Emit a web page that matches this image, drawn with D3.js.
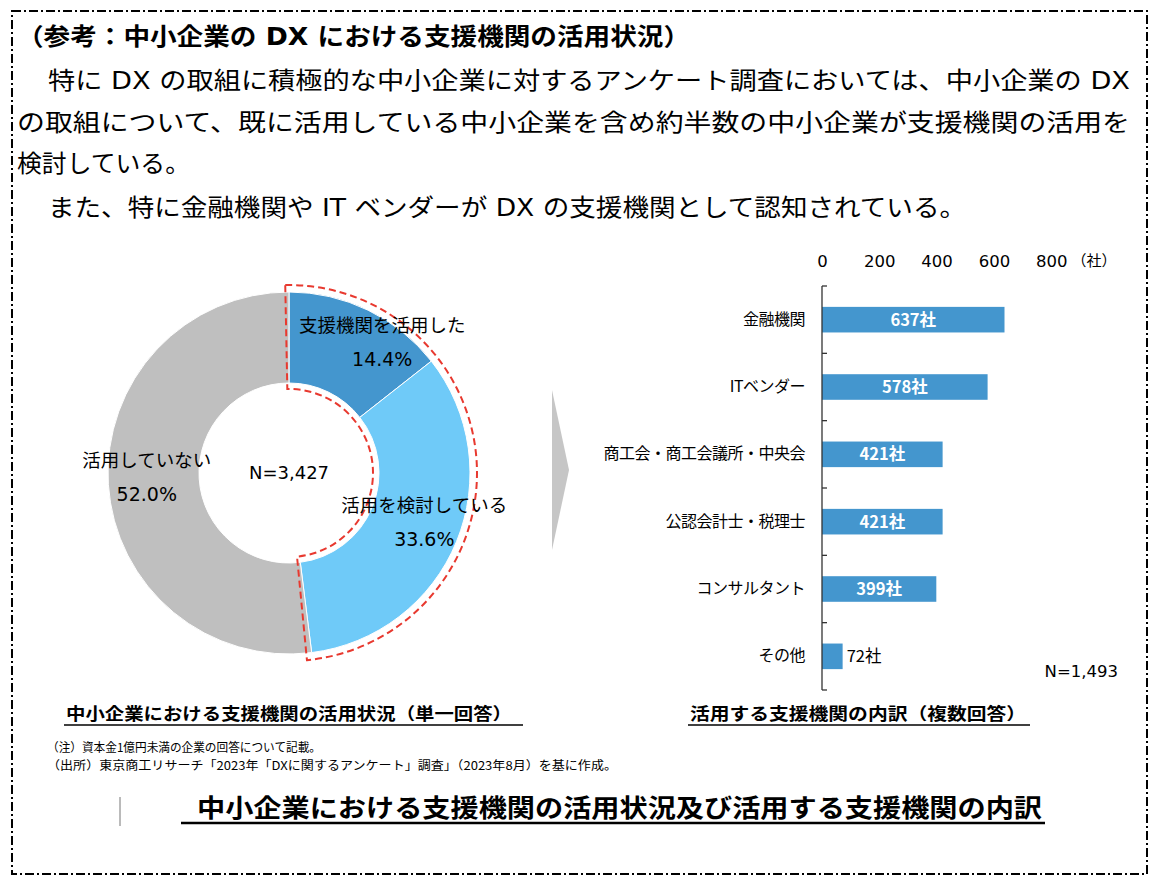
<!DOCTYPE html>
<html>
<head>
<meta charset="utf-8">
<script src="https://cdn.jsdelivr.net/npm/d3@7"></script>
<style>
  body { margin: 0; background: #fff; }
  svg { display: block; font-family: "DejaVu Sans", "Noto Sans CJK JP", sans-serif; }
</style>
</head>
<body>
<svg id="chart" width="1159" height="887"></svg>
<script>
// donut data
const pieLabels = ['支援機関を活用した', '活用を検討している', '活用していない'];
const pieValues = [14.4, 33.6, 52.0];
const pieTotal = 'N=3,427';

// bar data
const barCategories = ['金融機関', 'ITベンダー', '商工会・商工会議所・中央会', '公認会計士・税理士', 'コンサルタント', 'その他'];
const barValues = [637, 578, 421, 421, 399, 72];
const xTicks = [0, 200, 400, 600, 800];
const barTotal = 'N=1,493';

// text blocks
const headLines = [
  '（参考：中小企業の DX における支援機関の活用状況）',
  '特に DX の取組に積極的な中小企業に対するアンケート調査においては、中小企業の DX',
  'の取組について、既に活用している中小企業を含め約半数の中小企業が支援機関の活用を',
  '検討している。',
  'また、特に金融機関や IT ベンダーが DX の支援機関として認知されている。'
];
const noteLines = [
  '（注）資本金1億円未満の企業の回答について記載。',
  '（出所）東京商工リサーチ「2023年「DXに関するアンケート」調査」（2023年8月）を基に作成。'
];
const pieTitle = '中小企業における支援機関の活用状況（単一回答）';
const barTitle = '活用する支援機関の内訳（複数回答）';
const mainTitle = '中小企業における支援機関の活用状況及び活用する支援機関の内訳';

const svg = d3.select('#chart');

// dash-dot frame
svg.append('rect')
  .attr('x', 12).attr('y', 11)
  .attr('width', 1135).attr('height', 863)
  .attr('fill', 'none')
  .attr('stroke', '#000')
  .attr('stroke-width', 2)
  .attr('stroke-dasharray', '9,3,2,3');

// heading text
const headPos = [
  { x: 17, y: 45, w: 673, bold: true },
  { x: 48, y: 89, w: 1082 },
  { x: 17, y: 131, w: 1113 },
  { x: 17, y: 172, w: 173 },
  { x: 48, y: 216, w: 918 }
];
headLines.forEach((t, i) => {
  const p = headPos[i];
  svg.append('text')
    .attr('x', p.x).attr('y', p.y)
    .attr('font-size', 24)
    .attr('font-weight', p.bold ? 'bold' : 'normal')
    .attr('textLength', p.w)
    .attr('lengthAdjust', 'spacingAndGlyphs')
    .text(t);
});

// ---------- donut ----------
const cx = 289, cy = 473;
const rOuter = 181, rInner = 90;
const pieColors = ['#4496ce', '#6fcaf8', '#bfbfbf'];

const pie = d3.pie().sort(null).value(d => d);
const arcs = pie(pieValues);
const arc = d3.arc().innerRadius(rInner).outerRadius(rOuter);

const donut = svg.append('g').attr('transform', `translate(${cx},${cy})`);
donut.selectAll('path.slice')
  .data(arcs)
  .enter()
  .append('path')
  .attr('class', 'slice')
  .attr('d', arc)
  .attr('fill', (d, i) => pieColors[i])
  .attr('stroke', '#fff')
  .attr('stroke-width', 1);

// red dashed outline around the two blue slices
const usedEnd = arcs[1].endAngle;
const outline = d3.arc()
  .innerRadius(84).outerRadius(188)
  .startAngle(-0.02).endAngle(usedEnd + 0.03);
donut.append('path')
  .attr('d', outline())
  .attr('fill', 'none')
  .attr('stroke', '#e8392f')
  .attr('stroke-width', 2)
  .attr('stroke-dasharray', '7,4');

// slice labels
const labelShift = [[34, -9], [10, -2], [-7, -5]];
arcs.forEach((d, i) => {
  const c = d3.arc().innerRadius(rInner).outerRadius(rOuter).centroid(d);
  const x = c[0] + labelShift[i][0];
  const y = c[1] + labelShift[i][1];
  donut.append('text')
    .attr('x', x).attr('y', y - 10)
    .attr('text-anchor', 'middle')
    .attr('font-size', 18.5)
    .attr('font-family', '"Noto Sans CJK JP", sans-serif')
    .text(pieLabels[i]);
  donut.append('text')
    .attr('x', x).attr('y', y + 24)
    .attr('text-anchor', 'middle')
    .attr('font-size', 19)
    .text(d3.format('.1f')(pieValues[i]) + '%');
});

donut.append('text')
  .attr('x', 0).attr('y', 6)
  .attr('text-anchor', 'middle')
  .attr('font-size', 18)
  .text(pieTotal);

// gray chevron between charts
svg.append('path')
  .attr('d', d3.line()([[552, 390], [569, 470], [552, 550]]) + 'Z')
  .attr('fill', '#c6c6c6');

// ---------- bar chart ----------
const x0 = 822;
const xScale = d3.scaleLinear().domain([0, 800]).range([x0, x0 + 229.2]);
const yScale = d3.scaleBand()
  .domain(barCategories)
  .range([286, 690])
  .paddingInner(0.62)
  .paddingOuter(0.31);

svg.append('g')
  .attr('transform', 'translate(0,267)')
  .call(d3.axisTop(xScale).tickValues(xTicks).tickSize(0).tickPadding(0))
  .call(g => g.select('.domain').remove())
  .call(g => g.selectAll('text')
    .attr('font-size', 16.5)
    .attr('fill', '#000')
    .attr('font-family', '"DejaVu Sans", sans-serif'));

svg.append('text')
  .attr('x', 1094).attr('y', 266)
  .attr('text-anchor', 'middle')
  .attr('font-size', 15)
  .text('（社）');

svg.selectAll('.bar')
  .data(barValues)
  .enter()
  .append('rect')
  .attr('class', 'bar')
  .attr('x', xScale(0))
  .attr('y', (d, i) => yScale(barCategories[i]))
  .attr('width', d => xScale(d) - xScale(0))
  .attr('height', yScale.bandwidth())
  .attr('fill', '#4496ce');

// value labels
svg.selectAll('.bar-label')
  .data(barValues)
  .enter()
  .append('text')
  .attr('class', 'bar-label')
  .attr('x', d => d > 200 ? (xScale(d) + xScale(0)) / 2 : xScale(d) + 4)
  .attr('y', (d, i) => yScale(barCategories[i]) + yScale.bandwidth() / 2 + 6)
  .attr('text-anchor', d => d > 200 ? 'middle' : 'start')
  .attr('font-size', 16.5)
  .attr('font-family', '"Noto Sans CJK JP", sans-serif')
  .attr('font-weight', d => d > 200 ? 'bold' : 'normal')
  .attr('fill', d => d > 200 ? '#fff' : '#000')
  .text(d => d + '社');

// y axis: vertical line with ticks at category boundaries
const yAxis = svg.append('g').attr('transform', `translate(${x0},0)`);
yAxis.append('line')
  .attr('x1', 0).attr('x2', 0)
  .attr('y1', yScale.range()[0]).attr('y2', yScale.range()[1])
  .attr('stroke', '#333').attr('stroke-width', 1.3);
const bounds = d3.range(barCategories.length + 1).map(i => yScale.range()[0] + i * yScale.step());
yAxis.selectAll('.btick')
  .data(bounds)
  .enter()
  .append('line')
  .attr('class', 'btick')
  .attr('x1', 0).attr('x2', 5)
  .attr('y1', d => d).attr('y2', d => d)
  .attr('stroke', '#333').attr('stroke-width', 1.3);

svg.append('g')
  .attr('transform', `translate(${x0},0)`)
  .call(d3.axisLeft(yScale).tickSize(0).tickPadding(17))
  .call(g => g.select('.domain').remove())
  .call(g => g.selectAll('text')
    .attr('font-size', 16)
    .attr('fill', '#000')
    .attr('letter-spacing', -0.5)
    .attr('font-family', '"Noto Sans CJK JP", sans-serif'));

svg.append('text')
  .attr('x', 1118).attr('y', 677)
  .attr('text-anchor', 'end')
  .attr('font-size', 16.5)
  .text(barTotal);

// ---------- captions ----------
function underlined(txt, x, y, w, size, lineY, lineX1, lineX2, lw) {
  svg.append('text')
    .attr('x', x).attr('y', y)
    .attr('font-size', size)
    .attr('font-weight', 'bold')
    .attr('textLength', w)
    .attr('lengthAdjust', 'spacingAndGlyphs')
    .text(txt);
  svg.append('line')
    .attr('x1', lineX1).attr('x2', lineX2)
    .attr('y1', lineY).attr('y2', lineY)
    .attr('stroke', '#000').attr('stroke-width', lw);
}
underlined(pieTitle, 66, 720, 446, 17, 725, 64, 523, 1.5);
underlined(barTitle, 690, 720, 336, 17, 725, 688, 1030, 1.5);

noteLines.forEach((t, i) => {
  svg.append('text')
    .attr('x', 47).attr('y', 752 + i * 18)
    .attr('font-size', 12)
    .attr('font-family', '"Noto Sans CJK JP", sans-serif')
    .attr('textLength', i === 0 ? 274 : 570)
    .attr('lengthAdjust', 'spacingAndGlyphs')
    .text(t);
});

underlined(mainTitle, 197, 817, 845, 25, 823, 181, 1045, 2.5);

// stray cursor mark on the left of the title
svg.append('line')
  .attr('x1', 120).attr('x2', 120)
  .attr('y1', 797).attr('y2', 826)
  .attr('stroke', '#777').attr('stroke-width', 1);
</script>
</body>
</html>
